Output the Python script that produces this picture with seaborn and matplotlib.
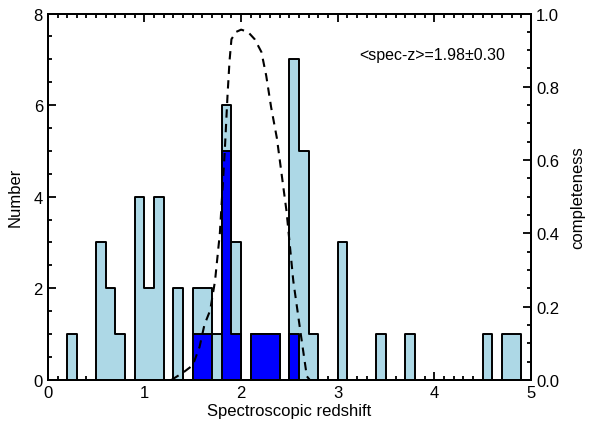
import matplotlib
matplotlib.use("Agg")
import matplotlib.pyplot as plt
from matplotlib.ticker import MultipleLocator
import numpy as np
import pandas as pd
import seaborn as sns

# histogram bins (left edges, width 0.1) and counts
all_bins = [0.2, 0.5, 0.6, 0.7, 0.9, 1.0, 1.1, 1.3, 1.5, 1.6, 1.7, 1.8, 1.9,
            2.1, 2.2, 2.3, 2.5, 2.6, 2.7, 3.0, 3.4, 3.7, 4.5, 4.7, 4.8]
all_counts = [1, 3, 2, 1, 4, 2, 4, 2, 2, 2, 1, 6, 3,
              1, 1, 1, 7, 5, 1, 3, 1, 1, 1, 1, 1]

sub_bins = [1.5, 1.6, 1.8, 1.9, 2.1, 2.2, 2.3, 2.5]
sub_counts = [1, 1, 5, 1, 1, 1, 1, 1]

# completeness curve
comp_z = [1.28, 1.40, 1.50, 1.57, 1.62, 1.68, 1.73, 1.78, 1.83, 1.86, 1.88,
          1.90, 1.95, 2.00, 2.07, 2.14, 2.21, 2.26, 2.31, 2.37, 2.47, 2.54,
          2.62, 2.68, 2.71]
comp_c = [0.0, 0.02, 0.04, 0.09, 0.15, 0.19, 0.27, 0.40, 0.62, 0.78, 0.87,
          0.93, 0.95, 0.956, 0.95, 0.93, 0.895, 0.83, 0.745, 0.66, 0.46, 0.27,
          0.12, 0.01, 0.0]

sns.set_style("ticks", {"axes.edgecolor": "black", "text.color": "black",
                        "xtick.color": "black", "ytick.color": "black",
                        "axes.labelcolor": "black"})
plt.rcParams["font.family"] = ["Liberation Sans", "DejaVu Sans"]

df_all = pd.DataFrame({"z": np.array(all_bins) + 0.05, "n": all_counts})
df_sub = pd.DataFrame({"z": np.array(sub_bins) + 0.05, "n": sub_counts})

fig, ax = plt.subplots(figsize=(5.98, 4.27), dpi=100)
fig.subplots_adjust(left=0.080, right=0.888, bottom=0.108, top=0.966)

sns.histplot(data=df_all, x="z", weights="n", bins=50, binrange=(0, 5),
             element="step", fill=True, color="lightblue", alpha=1,
             edgecolor="black", linewidth=1.4, ax=ax)
sns.histplot(data=df_sub, x="z", weights="n", bins=50, binrange=(0, 5),
             element="step", fill=True, color="blue", alpha=1,
             edgecolor="black", linewidth=1.4, ax=ax)

ax.set_xlim(0, 5)
ax.set_ylim(0, 8)
ax.xaxis.set_major_locator(MultipleLocator(1))
ax.xaxis.set_minor_locator(MultipleLocator(0.1))
ax.yaxis.set_major_locator(MultipleLocator(2))
ax.yaxis.set_minor_locator(MultipleLocator(0.5))
ax.tick_params(which="both", direction="in", top=True, right=False,
               width=1.3, labelsize=12)
ax.tick_params(which="major", length=6)
ax.tick_params(which="minor", length=3)
ax.set_xlabel("Spectroscopic redshift", fontsize=12, labelpad=2)
ax.set_ylabel("Number", fontsize=12, labelpad=8)

ax2 = ax.twinx()
sns.lineplot(x=comp_z, y=comp_c, ax=ax2, color="black", linewidth=1.5,
             linestyle=(0, (4, 3)))
ax2.set_ylim(0, 1.0)
ax2.yaxis.set_major_locator(MultipleLocator(0.2))
ax2.yaxis.set_minor_locator(MultipleLocator(0.05))
ax2.tick_params(which="both", direction="in", width=1.3, labelsize=12)
ax2.tick_params(which="major", length=6)
ax2.tick_params(which="minor", length=3)
ax2.set_ylabel("completeness", fontsize=12, labelpad=8)

for a in (ax, ax2):
    for s in a.spines.values():
        s.set_linewidth(1.4)
        s.set_color("black")
        s.set_visible(True)

ax.text(0.946, 0.888, "<spec-z>=1.98±0.30", transform=ax.transAxes,
        ha="right", va="center", fontsize=11.5)

fig.savefig("out.png", dpi=100)
